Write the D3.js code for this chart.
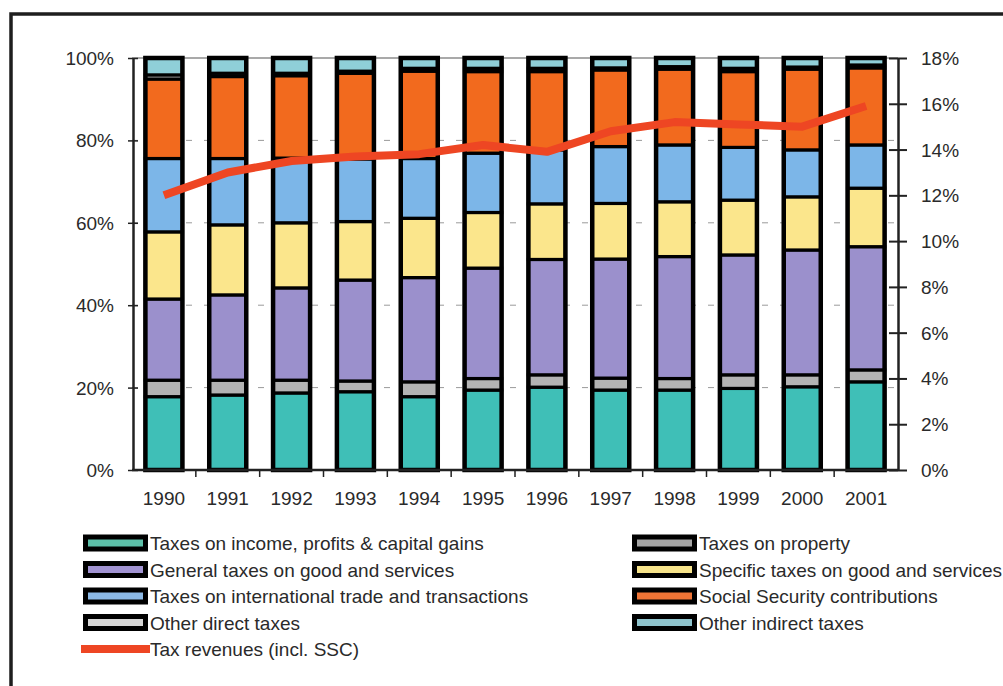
<!DOCTYPE html>
<html>
<head>
<meta charset="utf-8">
<script src="https://cdn.jsdelivr.net/npm/d3@7"></script>
<style>
  html, body { margin: 0; padding: 0; background: #ffffff; }
  svg { display: block; }
  text { font-family: "Liberation Sans", Arial, sans-serif; fill: #2a2a2a; }
</style>
</head>
<body>
<svg id="chart" width="1003" height="686"></svg>
<script>
// ---- Data ----
const years = ["1990","1991","1992","1993","1994","1995","1996","1997","1998","1999","2000","2001"];
const incomeTaxes     = [17.8, 18.2, 18.7, 19.0, 17.8, 19.4, 20.1, 19.4, 19.4, 19.8, 20.2, 21.4];
const propertyTaxes   = [4.0, 3.6, 3.1, 2.6, 3.6, 2.8, 3.0, 2.9, 2.8, 3.3, 2.9, 2.9];
const generalGoods    = [19.7, 20.7, 22.4, 24.5, 25.3, 26.8, 28.0, 28.9, 29.6, 29.1, 30.3, 29.9];
const specificGoods   = [16.3, 17.0, 15.8, 14.2, 14.4, 13.5, 13.5, 13.5, 13.3, 13.3, 12.9, 14.2];
const intlTrade       = [17.8, 16.1, 15.7, 15.2, 14.5, 14.4, 13.1, 13.8, 13.8, 12.8, 11.4, 10.5];
const socialSecurity  = [19.3, 19.9, 20.0, 20.8, 21.2, 19.8, 19.0, 18.6, 18.4, 18.4, 19.6, 18.7];
const otherDirect     = [1.0, 0.8, 0.6, 0.5, 0.7, 0.8, 0.8, 0.5, 0.6, 0.8, 0.5, 0.7];
const otherIndirect   = [4.1, 3.7, 3.7, 3.2, 2.5, 2.5, 2.5, 2.4, 2.1, 2.5, 2.2, 1.7];
const taxRevenues     = [12.0, 13.0, 13.5, 13.7, 13.8, 14.2, 13.9, 14.8, 15.2, 15.1, 15.0, 15.9];

const leftTicks  = [0, 20, 40, 60, 80, 100];
const rightTicks = [0, 2, 4, 6, 8, 10, 12, 14, 16, 18];

const seriesNames = [
  "Taxes on income, profits & capital gains",
  "Taxes on property",
  "General taxes on good and services",
  "Specific taxes on good and services",
  "Taxes on international trade and transactions",
  "Social Security contributions",
  "Other direct taxes",
  "Other indirect taxes"
];
const lineName = "Tax revenues (incl. SSC)";

// ---- Styles ----
const barColors    = ["#3fbfb7", "#b3b3b3", "#9b90cc", "#fbe68c", "#7cb6e8", "#f26a1e", "#d9d9d9", "#8fcfd8"];
const legendColors = ["#5cbfa8", "#a3a3a3", "#a193d2", "#f6e38a", "#8cb9e6", "#ee7436", "#d6d6d6", "#8ec3cc"];
const lineColor = "#ee4623";

// ---- Build table ----
const keys = d3.range(seriesNames.length).map(String);
const seriesArrays = [incomeTaxes, propertyTaxes, generalGoods, specificGoods, intlTrade, socialSecurity, otherDirect, otherIndirect];
const table = years.map((y, i) => {
  const row = { year: y };
  seriesArrays.forEach((arr, k) => row[String(k)] = arr[i]);
  return row;
});
const stacked = d3.stack().keys(keys)(table);

const svg = d3.select("#chart");

// outer frame
svg.append("rect").attr("x", 11).attr("y", 14).attr("width", 1200).attr("height", 900)
  .attr("fill", "none").attr("stroke", "#1e1e1e").attr("stroke-width", 3.5);

const plot = { left: 132, right: 898, top: 58, bottom: 470 };

const x = d3.scaleBand().domain(years).range([plot.left, plot.right]).paddingInner(0.42).paddingOuter(0.21);
const xBand = d3.scaleBand().domain(years).range([plot.left, plot.right]);
const yL = d3.scaleLinear().domain([0, 100]).range([plot.bottom, plot.top]);
const yR = d3.scaleLinear().domain([0, 18]).range([plot.bottom, plot.top]);

// gridlines (dashed)
svg.append("g").selectAll("line").data(leftTicks.filter(t => t > 0 && t < 100)).join("line")
  .attr("x1", plot.left).attr("x2", plot.right)
  .attr("y1", d => yL(d)).attr("y2", d => yL(d))
  .attr("stroke", "#9a9a9a").attr("stroke-width", 1).attr("stroke-dasharray", "6,12");

// top border line
svg.append("line").attr("x1", plot.left).attr("x2", plot.right)
  .attr("y1", yL(100)).attr("y2", yL(100)).attr("stroke", "#555").attr("stroke-width", 1.2);

// bars
const gBars = svg.append("g");
stacked.forEach((layer, k) => {
  gBars.append("g").selectAll("rect").data(layer).join("rect")
    .attr("x", d => x(d.data.year))
    .attr("width", x.bandwidth())
    .attr("y", d => yL(d[1]))
    .attr("height", d => yL(d[0]) - yL(d[1]))
    .attr("fill", barColors[k])
    .attr("stroke", "#000").attr("stroke-width", 3.2);
});
// bar outer outline
const totals = table.map(r => ({ year: r.year, total: d3.sum(keys, k => r[k]) }));
gBars.append("g").selectAll("rect").data(totals).join("rect")
  .attr("x", d => x(d.year)).attr("width", x.bandwidth())
  .attr("y", d => yL(d.total)).attr("height", d => yL(0) - yL(d.total))
  .attr("fill", "none").attr("stroke", "#000").attr("stroke-width", 4.5);

// left axis
const axL = svg.append("g").attr("transform", `translate(${plot.left + 1},0)`)
  .call(d3.axisLeft(yL).tickValues(leftTicks).tickFormat(d => d + "%").tickSizeInner(5).tickSizeOuter(0).tickPadding(14));
axL.select(".domain").attr("stroke", "#222").attr("stroke-width", 2.5);
axL.selectAll(".tick line").attr("x2", 5).attr("x1", -5).attr("stroke", "#222").attr("stroke-width", 1.5);
axL.selectAll(".tick text").attr("font-size", 19).attr("fill", "#333").attr("dy", "0.34em");

// right axis
const axR = svg.append("g").attr("transform", `translate(${plot.right},0)`)
  .call(d3.axisRight(yR).tickValues(rightTicks).tickFormat(d => d + "%").tickSizeInner(9).tickSizeOuter(0).tickPadding(14));
axR.select(".domain").attr("stroke", "#222").attr("stroke-width", 2.5);
axR.selectAll(".tick line").attr("x1", -9).attr("x2", 9).attr("stroke", "#222").attr("stroke-width", 2);
axR.selectAll(".tick text").attr("font-size", 19).attr("fill", "#333").attr("dy", "0.34em");

// bottom axis
svg.append("line").attr("x1", plot.left).attr("x2", plot.right)
  .attr("y1", plot.bottom).attr("y2", plot.bottom).attr("stroke", "#222").attr("stroke-width", 2.5);
const axB = svg.append("g").attr("transform", `translate(0,${plot.bottom})`)
  .call(d3.axisBottom(xBand).tickSize(0).tickPadding(22));
axB.select(".domain").remove();
axB.selectAll(".tick text").attr("font-size", 19).attr("fill", "#333");
// x ticks at band boundaries
svg.append("g").selectAll("line").data(years.slice(1)).join("line")
  .attr("x1", d => xBand(d)).attr("x2", d => xBand(d))
  .attr("y1", plot.bottom).attr("y2", plot.bottom + 7)
  .attr("stroke", "#222").attr("stroke-width", 1.5);

// line series
const line = d3.line()
  .x((d, i) => x(years[i]) + x.bandwidth() / 2)
  .y(d => yR(d));
svg.append("path").datum(taxRevenues)
  .attr("d", line).attr("fill", "none")
  .attr("stroke", lineColor).attr("stroke-width", 8)
  .attr("stroke-linejoin", "round").attr("stroke-linecap", "butt");

// legend
const legendRows = [543, 569.5, 596, 622.5, 649];
const legendCols = [{ sx: 85.5, tx: 150 }, { sx: 634.5, tx: 699 }];
const legendItems = seriesNames.map((name, i) => ({ name, color: legendColors[i], col: i % 2, row: Math.floor(i / 2) }));
const gLeg = svg.append("g");
const items = gLeg.selectAll("g").data(legendItems).join("g");
items.append("rect")
  .attr("x", d => legendCols[d.col].sx).attr("y", d => legendRows[d.row] - 6)
  .attr("width", 60).attr("height", 12)
  .attr("fill", d => d.color).attr("stroke", "#000").attr("stroke-width", 5);
items.append("text")
  .attr("x", d => legendCols[d.col].tx).attr("y", d => legendRows[d.row] + 7)
  .attr("font-size", 19).text(d => d.name);
gLeg.append("line").attr("x1", 81).attr("x2", 150)
  .attr("y1", legendRows[4]).attr("y2", legendRows[4])
  .attr("stroke", lineColor).attr("stroke-width", 8);
gLeg.append("text").attr("x", 150).attr("y", legendRows[4] + 7)
  .attr("font-size", 19).text(lineName);
</script>
</body>
</html>
